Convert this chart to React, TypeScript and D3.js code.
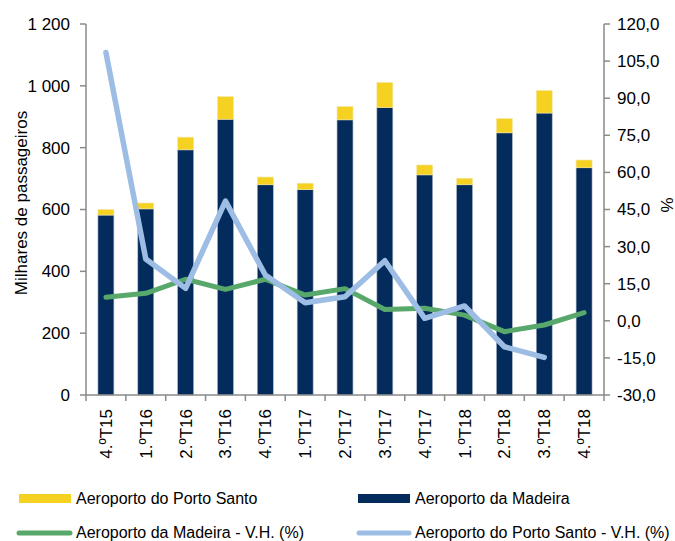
import React from "react";
import * as d3 from "d3";

const categories = ["4.ºT15", "1.ºT16", "2.ºT16", "3.ºT16", "4.ºT16", "1.ºT17", "2.ºT17", "3.ºT17", "4.ºT17", "1.ºT18", "2.ºT18", "3.ºT18", "4.ºT18"];
const madeira = [582, 602, 793, 892, 680, 664, 890, 930, 712, 680, 848, 912, 735];
const portoSanto = [18, 19, 41, 73, 25, 21, 43, 81, 32, 21, 46, 73, 25];
const madeiraVH = [9.5, 11.1, 16.8, 12.7, 16.8, 10.4, 13.0, 4.6, 5.1, 2.3, -4.4, -1.7, 3.3];
const portoSantoVH: (number | null)[] = [108.5, 25.0, 13.1, 48.4, 18.5, 7.3, 9.7, 24.3, 1.0, 6.0, -10.5, -14.8, null];
const leftTicks = [0, 200, 400, 600, 800, 1000, 1200];
const rightTicks = [-30, -15, 0, 15, 30, 45, 60, 75, 90, 105, 120];

const NAVY = "#032c5c";
const YELLOW = "#f5d122";
const GREEN = "#58a86b";
const LIGHTBLUE = "#9dbde4";
const AXIS = "#8a8a8a";
const FONT = "Liberation Sans, Arial, sans-serif";

const left = 86, right = 604, top = 24, bottom = 395;

const App = () => {
  const x = d3.scaleBand<string>().domain(categories).range([left, right]).padding(0);
  const y = d3.scaleLinear().domain([0, 1200]).range([bottom, top]);
  const y2 = d3.scaleLinear().domain([-30, 120]).range([bottom, top]);
  const bw = x.bandwidth();
  const barW = bw * 0.4;
  const cx = (c: string) => (x(c) as number) + bw / 2;

  const lineG = d3
    .line<number>()
    .x((d, i) => cx(categories[i]))
    .y(d => y2(d));
  const lineB = d3
    .line<number | null>()
    .defined(d => d !== null)
    .x((d, i) => cx(categories[i]))
    .y(d => y2(d as number));

  const fmtLeft = (v: number) => (v >= 1000 ? `${Math.floor(v / 1000)} ${String(v % 1000).padStart(3, "0")}` : String(v));
  const fmtRight = (v: number) => v.toFixed(1).replace(".", ",");

  return (
    <svg width={675} height={541} style={{ position: "absolute", left: 0, top: 0 }} fontFamily={FONT}>
      <rect width={675} height={541} fill="#fff" />
      {/* bars */}
      {categories.map((c, i) => (
        <g key={c}>
          <rect x={cx(c) - barW / 2} y={y(madeira[i])} width={barW} height={bottom - y(madeira[i])}
            fill={NAVY} stroke="#a9b3c2" strokeWidth={0.6} />
          <rect x={cx(c) - barW / 2} y={y(madeira[i] + portoSanto[i])} width={barW}
            height={y(madeira[i]) - y(madeira[i] + portoSanto[i])} fill={YELLOW} stroke="#f3e6a0" strokeWidth={0.6} />
        </g>
      ))}
      {/* lines */}
      <path d={lineG(madeiraVH) || ""} fill="none" stroke={GREEN} strokeWidth={5} strokeLinejoin="round" strokeLinecap="round" />
      <path d={lineB(portoSantoVH) || ""} fill="none" stroke={LIGHTBLUE} strokeWidth={5.5} strokeLinejoin="round" strokeLinecap="round" />

      {/* left axis */}
      <line x1={left} x2={left} y1={top} y2={bottom} stroke={AXIS} strokeWidth={1.5} />
      {leftTicks.map(t => (
        <g key={t}>
          <line x1={left - 6} x2={left} y1={y(t)} y2={y(t)} stroke={AXIS} strokeWidth={1.5} />
          <text x={70} y={y(t)} dy="0.35em" textAnchor="end" fontSize={17} fill="#000">{fmtLeft(t)}</text>
        </g>
      ))}
      <text transform={`translate(27,203) rotate(-90)`} textAnchor="middle" fontSize={17}>Milhares de passageiros</text>

      {/* right axis */}
      <line x1={right} x2={right} y1={top} y2={bottom} stroke={AXIS} strokeWidth={1.5} />
      {rightTicks.map(t => (
        <g key={t}>
          <line x1={right} x2={right + 6} y1={y2(t)} y2={y2(t)} stroke={AXIS} strokeWidth={1.5} />
          <text x={617} y={y2(t)} dy="0.35em" textAnchor="start" fontSize={17}>{fmtRight(t)}</text>
        </g>
      ))}
      <text transform={`translate(673,205) rotate(-90)`} textAnchor="middle" fontSize={17}>%</text>

      {/* bottom axis */}
      <line x1={left} x2={right} y1={bottom} y2={bottom} stroke={AXIS} strokeWidth={1.5} />
      {[...categories.map(c => x(c) as number), right].map((bx, i) => (
        <line key={i} x1={bx} x2={bx} y1={bottom} y2={bottom + 6} stroke={AXIS} strokeWidth={1.5} />
      ))}
      {categories.map(c => (
        <text key={c} transform={`translate(${cx(c) + 6},409) rotate(-90)`} textAnchor="end" fontSize={17}>{c}</text>
      ))}

      {/* legend */}
      <rect x={19} y={494} width={52} height={9} fill={YELLOW} />
      <text x={76} y={504} fontSize={16}>Aeroporto do Porto Santo</text>
      <rect x={358} y={494} width={52} height={9} fill={NAVY} />
      <text x={415} y={504} fontSize={16}>Aeroporto da Madeira</text>
      <line x1={19} x2={70} y1={533} y2={533} stroke={GREEN} strokeWidth={5} strokeLinecap="round" />
      <text x={76} y={538} fontSize={16}>Aeroporto da Madeira - V.H. (%)</text>
      <line x1={359} x2={409} y1={533} y2={533} stroke={LIGHTBLUE} strokeWidth={5} strokeLinecap="round" />
      <text x={415} y={538} fontSize={16}>Aeroporto do Porto Santo - V.H. (%)</text>
    </svg>
  );
};

export default App;
